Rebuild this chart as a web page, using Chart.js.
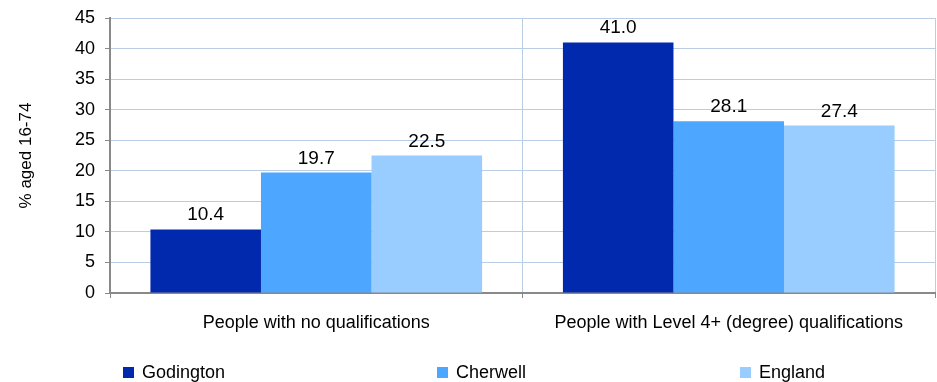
<!DOCTYPE html>
<html>
<head>
<meta charset="utf-8">
<script src="https://cdn.jsdelivr.net/npm/chart.js@4"></script>
<style>
  body { margin: 0; background: #fff; font-family: "Liberation Sans", Arial, sans-serif; }
  #wrap { position: relative; width: 937px; height: 382px; }
  #legend { position: absolute; left: 0; top: 361px; width: 937px; height: 22px; font-size: 18px; color: #000; }
  #legend .item { position: absolute; top: 0; line-height: 22px; white-space: nowrap; }
  #legend .box { display: inline-block; width: 11px; height: 11px; margin-right: 8px; vertical-align: 0px; }
</style>
</head>
<body>
<div id="wrap">
  <canvas id="chart-area" width="937" height="382"></canvas>
  <div id="legend"></div>
</div>
<script>
var categories = ["People with no qualifications", "People with Level 4+ (degree) qualifications"];
var seriesNames = ["Godington", "Cherwell", "England"];
var godington = [10.4, 41.0];
var cherwell = [19.7, 28.1];
var england = [22.5, 27.4];
var yTicks = [0, 5, 10, 15, 20, 25, 30, 35, 40, 45];

var colors = ['#0029AE', '#4DA6FF', '#99CCFF'];
var fontFamily = '"Liberation Sans", Arial, sans-serif';
var values = [godington, cherwell, england];

var arr = [];
for (var i = 0; i < seriesNames.length; i++) {
  arr.push({
    label: seriesNames[i],
    data: values[i],
    backgroundColor: colors[i],
    borderWidth: 0,
    categoryPercentage: 0.804,
    barPercentage: 1
  });
}

// 數值標籤
var valueLabels = {
  id: 'valueLabels',
  afterDatasetsDraw: function(chart) {
    var ctx = chart.ctx;
    ctx.save();
    ctx.font = '19px ' + fontFamily;
    ctx.fillStyle = '#000';
    ctx.textAlign = 'center';
    ctx.textBaseline = 'alphabetic';
    chart.data.datasets.forEach(function(ds, di) {
      chart.getDatasetMeta(di).data.forEach(function(bar, j) {
        ctx.fillText(ds.data[j].toFixed(1), bar.x, bar.y - 9);
      });
    });
    ctx.restore();
  }
};

var ctx = document.getElementById("chart-area");
var myChart = new Chart(ctx, {
  type: "bar",
  data: { labels: categories, datasets: arr },
  plugins: [valueLabels],
  options: {
    responsive: false,
    animation: false,
    layout: { padding: { left: 15, right: 2, top: 18, bottom: 39 } },
    plugins: { legend: { display: false }, tooltip: { enabled: false } },
    scales: {
      x: {
        afterFit: function(scale) { scale.height = 50; scale.paddingLeft = 0; scale.paddingRight = 0; },
        grid: { color: '#B9CDE5', lineWidth: 1, tickColor: '#898989', tickLength: 5 },
        border: { color: '#898989', width: 2 },
        ticks: { color: '#000', padding: 14, font: { family: fontFamily, size: 18 } }
      },
      y: {
        min: 0,
        max: 45,
        afterFit: function(scale) { scale.width = 95; scale.paddingTop = 0; scale.paddingBottom = 0; },
        afterBuildTicks: function(scale) { scale.ticks = yTicks.map(function(v) { return { value: v }; }); },
        grid: { color: '#B9CDE5', lineWidth: 1, tickColor: '#898989', tickLength: 5 },
        border: { color: '#898989', width: 2 },
        ticks: { color: '#000', padding: 10, font: { family: fontFamily, size: 18 } },
        title: { display: true, text: '% aged 16-74', color: '#000', padding: { top: 1, bottom: 0 }, font: { family: fontFamily, size: 17 } }
      }
    }
  }
});

// 圖例
var legendX = [123, 437, 740];
var legend = document.getElementById('legend');
seriesNames.forEach(function(name, i) {
  var item = document.createElement('div');
  item.className = 'item';
  item.style.left = legendX[i] + 'px';
  item.innerHTML = '<span class="box" style="background:' + colors[i] + '"></span>' + name;
  legend.appendChild(item);
});
</script>
</body>
</html>
